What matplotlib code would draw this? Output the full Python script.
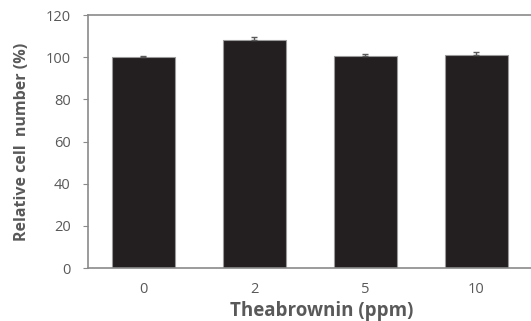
import matplotlib.pyplot as plt
import numpy as np

doses = ['0', '2', '5', '10']
values = [99.9, 108.4, 100.6, 101.0]
errors = [0.5, 1.0, 0.8, 1.3]

plt.rcParams['font.family'] = ['Open Sans', 'DejaVu Sans']
grey = '#595959'

fig = plt.figure(figsize=(5.31, 3.21), dpi=100)
ax = fig.add_axes([0.1657, 0.165, 0.836, 0.788])

x = np.arange(len(doses))
# only the upper half of each error bar shows, as in the original
ax.bar(x, values, width=0.57, color='#231f20', edgecolor='#9a9a9a', linewidth=0.8,
       yerr=[np.zeros(len(errors)), errors],
       error_kw=dict(ecolor='#595959', elinewidth=1, capsize=2.2, capthick=1))

ax.set_xlim(-0.5, 3.5)
ax.set_ylim(0, 120)
ax.set_yticks(range(0, 121, 20))
ax.set_xticks(x)
ax.set_xticklabels(doses)

for s in ['top', 'left', 'bottom']:
    ax.spines[s].set_color('#8a8a8a')
    ax.spines[s].set_linewidth(1.2)
ax.spines['right'].set_visible(False)

ax.tick_params(axis='y', direction='out', length=3.5, color='#8a8a8a', pad=9,
               labelsize=10.5, labelcolor=grey)
ax.tick_params(axis='x', length=0, pad=10, labelsize=10.5, labelcolor=grey)

ax.set_ylabel('Relative cell  number (%)', fontsize=11.5, fontweight='bold', color=grey, labelpad=11)
ax.set_xlabel('Theabrownin (ppm)', fontsize=13.5, fontweight='bold', color=grey)
ax.xaxis.set_label_coords(0.527, -0.13)

plt.savefig('out.png', dpi=100)
